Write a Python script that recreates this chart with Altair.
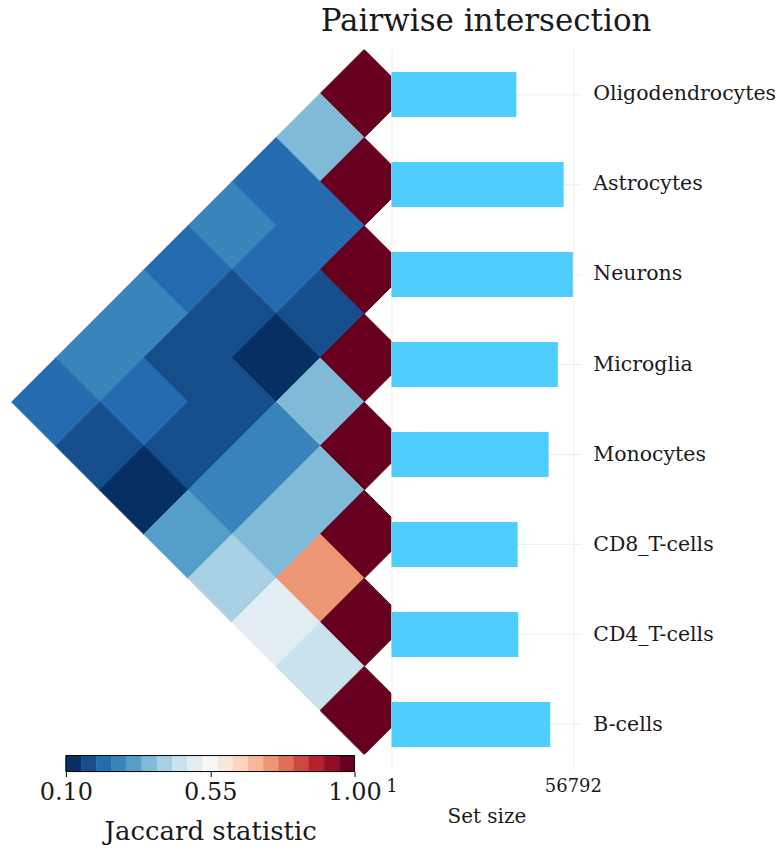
import numpy as np
import pandas as pd
import altair as alt

# ---------------- data ----------------
sets = ["Oligodendrocytes", "Astrocytes", "Neurons", "Microglia",
        "Monocytes", "CD8_T-cells", "CD4_T-cells", "B-cells"]
set_sizes = [39100, 53900, 56792, 52100, 49200, 39500, 39700, 49700]

# lower triangle of pairwise Jaccard statistics (row i: pairs with sets 0..i)
jaccard = [
    [1.00],
    [0.36, 1.00],
    [0.22, 0.22, 1.00],
    [0.27, 0.22, 0.17, 1.00],
    [0.22, 0.17, 0.12, 0.36, 1.00],
    [0.27, 0.17, 0.17, 0.27, 0.36, 1.00],
    [0.27, 0.22, 0.17, 0.27, 0.36, 0.74, 1.00],
    [0.22, 0.17, 0.12, 0.31, 0.41, 0.50, 0.45, 1.00],
]
size_ticks = [1, 56792]
cbar_ticks = [0.10, 0.55, 1.00]

# ---------------- colour map (RdBu reversed, 19 discrete levels) ----------------
vmin, vmax, n_colors = 0.10, 1.00, 19
rdbu_r = ["#053061", "#2166ac", "#4393c3", "#92c5de", "#d1e5f0", "#f7f7f7",
          "#fddbc7", "#f4a582", "#d6604d", "#b2182b", "#67001f"]


def _rgb(h):
    return [int(h[k:k + 2], 16) for k in (1, 3, 5)]


def _sample(t):
    pos = t * (len(rdbu_r) - 1)
    k = min(int(np.floor(pos)), len(rdbu_r) - 2)
    f = pos - k
    a, b = _rgb(rdbu_r[k]), _rgb(rdbu_r[k + 1])
    return "#%02x%02x%02x" % tuple(int(round(a[c] + (b[c] - a[c]) * f)) for c in range(3))


palette = [_sample(k / (n_colors - 1)) for k in range(n_colors)]
color_scale = alt.Scale(type="quantize", domain=[vmin, vmax], range=palette)

FONT = "DejaVu Serif"
TXT = "#1a1a1a"

# ---------------- heatmap (rotated lower triangle) ----------------
rows = []
for i, r in enumerate(jaccard):
    for j, v in enumerate(r):
        rows.append({"set_a": sets[i], "set_b": sets[j], "i": i, "j": j, "jaccard": v})
heat_df = pd.DataFrame(rows)

HEAT_W, HEAT_H = 387, 706
CELL = HEAT_H / 8.0  # pixels per unit (diagonal of one diamond)

heat = alt.Chart(heat_df).transform_calculate(
    hx="(datum.j - datum.i) / 2",
    hy="(datum.i + datum.j) / 2",
).mark_point(
    shape="diamond", filled=True, opacity=1, size=CELL ** 2, strokeWidth=1, clip=True
).encode(
    x=alt.X("hx:Q", scale=alt.Scale(domain=[-4.075, 0.31], nice=False, zero=False), axis=None),
    y=alt.Y("hy:Q", scale=alt.Scale(domain=[-0.5, 7.5], nice=False, zero=False, reverse=True), axis=None),
    fill=alt.Fill("jaccard:Q", scale=color_scale, legend=None),
    stroke=alt.Stroke("jaccard:Q", scale=color_scale, legend=None),
    tooltip=["set_a", "set_b", "jaccard"],
).properties(width=HEAT_W, height=HEAT_H)

# ---------------- colour bar ----------------
step = (vmax - vmin) / n_colors
lo = vmin + step * np.arange(n_colors)
cb_df = pd.DataFrame({"lo": lo, "hi": lo + step, "mid": lo + step / 2})

CB_LEFT, CB_WIDTH = 61, 289
u = (vmax - vmin) / CB_WIDTH
cb_domain = [vmin - CB_LEFT * u, vmin + (HEAT_W - CB_LEFT) * u]
cb_axis = alt.Axis(values=cbar_ticks, format=".2f", title="Jaccard statistic",
                   grid=False, domain=False, ticks=True, tickSize=5, tickColor="black",
                   tickWidth=1, labelFontSize=24, titleFontSize=26, labelPadding=4,
                   titlePadding=14, titleX=CB_LEFT + CB_WIDTH / 2, labelFlush=False,
                   labelOverlap=False)
cb_scale = alt.Scale(domain=cb_domain, nice=False, zero=False)

cb_cells = alt.Chart(cb_df).mark_rect(strokeWidth=0.5).encode(
    x=alt.X("lo:Q", scale=cb_scale, axis=cb_axis),
    x2="hi:Q",
    fill=alt.Fill("mid:Q", scale=color_scale, legend=None),
    stroke=alt.Stroke("mid:Q", scale=color_scale, legend=None),
)
cb_outline = alt.Chart(cb_df).mark_rect(fillOpacity=0, stroke="black", strokeWidth=1).encode(
    x=alt.X("min(lo):Q", scale=cb_scale, axis=cb_axis),
    x2="max(hi):Q",
)
cbar = alt.layer(cb_cells, cb_outline).properties(width=HEAT_W, height=16)

# ---------------- set size bars ----------------
bar_df = pd.DataFrame({"set": sets, "size": set_sizes})
bars = alt.Chart(bar_df).mark_bar(color="#4fcdfd").encode(
    x=alt.X("size:Q", scale=alt.Scale(domain=[1, 59420], nice=False, zero=False),
            axis=alt.Axis(values=size_ticks, format="d", title="Set size", grid=True,
                          gridColor="#ececec", ticks=False, domain=False, labelFontSize=18,
                          titleFontSize=20, labelPadding=8, titlePadding=11, labelFlush=False)),
    y=alt.Y("set:N", sort=sets, scale=alt.Scale(paddingInner=0.5, paddingOuter=0.25),
            axis=alt.Axis(orient="right", title=None, ticks=False, domain=False, grid=True,
                          gridColor="#ececec", labelFontSize=20.5, labelPadding=11.5,
                          bandPosition=0.5, labelLimit=0)),
    tooltip=["set", "size"],
).properties(width=190, height=721)

left = alt.vconcat(heat, cbar, spacing=0)
chart = alt.hconcat(left, bars, spacing=-6).properties(
    title=alt.TitleParams("Pairwise intersection", fontSize=31, font=FONT, fontWeight="normal",
                          color=TXT, anchor="start", align="center", dx=481.7, dy=6, offset=18),
    padding={"left": 5, "top": 5, "right": 5, "bottom": 5},
).configure(font=FONT).configure_view(stroke=None).configure_axis(
    labelColor=TXT, titleColor=TXT, labelFont=FONT, titleFont=FONT, titleFontWeight="normal"
)

chart.save("out.html", embed_options={"renderer": "svg", "actions": False})
